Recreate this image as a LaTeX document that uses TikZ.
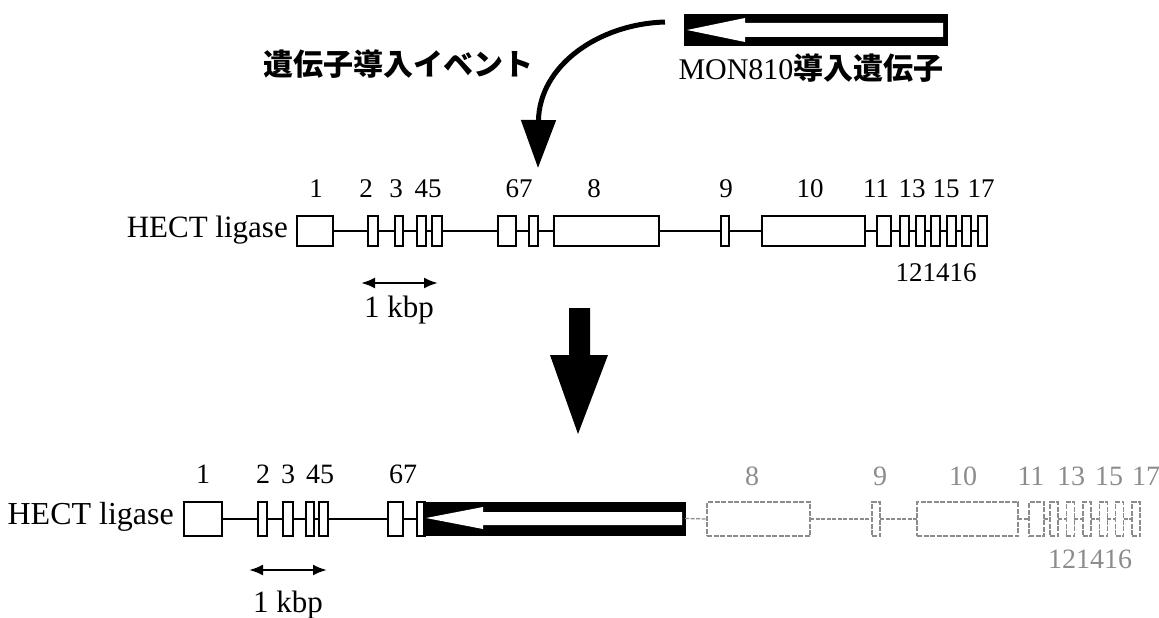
\documentclass[tikz,border=0pt]{standalone}
\usepackage{fontspec}
\setmainfont{Liberation Serif}
\newfontfamily\cjk{Noto Sans CJK JP}
\usetikzlibrary{arrows.meta}
\definecolor{fade}{gray}{0.55}
\tikzset{
  exon/.style={draw, line width=2pt, fill=white, inner sep=0pt, outer sep=0pt},
  fexon/.style={exon, draw=fade, line width=1.4pt, dash pattern=on 5pt off 1.5pt},
  intron/.style={line width=1.6pt},
  fintron/.style={line width=1.2pt, draw=fade, dash pattern=on 4pt off 1.5pt},
  num/.style={font=\fontsize{27}{27}\selectfont, inner sep=0pt, anchor=base},
  bnum/.style={num, font=\fontsize{28}{28}\selectfont},
  fnum/.style={bnum, text=fade},
  lab/.style={font=\fontsize{30}{30}\selectfont, inner sep=0pt, anchor=base},
  kbp/.style={font=\fontsize{31}{31}\selectfont, inner sep=0pt, anchor=base},
  scalebar/.style={line width=2.4pt, {Latex[length=14pt,width=11pt]}-{Latex[length=14pt,width=11pt]}},
  insbox/.style={fill=black, draw=black, inner sep=0pt, outer sep=0pt}
}
% \mkexon[style]{name}{x1}{x2}{yc}{h}
\newcommand\mkexon[6][exon]{\node[#1, minimum width={(#4-#3)*1pt}, minimum height=#6pt] (#2) at ({(#3+#4)/2},#5) {};}
\begin{document}
\begin{tikzpicture}[x=1pt,y=-1pt]
\useasboundingbox (0,0) rectangle (1159,618);

% ---------------- top: insert and event ----------------
\node[insbox, minimum width=263pt, minimum height=31pt] (ins1) at (815.5,29.5) {};
\fill[white] (687,30) -- (745,18) -- (745,23) -- (943,23) -- (943,37) -- (745,37) -- (745,42) -- cycle;
\node[lab] (monlab) at (811,80) {MON810{\cjk\bfseries 導入遺伝子}};
\node[lab, anchor=base east] (evt) at (534,75) {\cjk\bfseries 遺伝子導入イベント};
\coordinate (cs) at (665,22);
\coordinate (ct) at (538,168);
\draw[line width=5pt, -{Triangle[length=48pt,width=34pt]}] (cs) .. controls (598,24) and (539,66) .. (ct);

% ---------------- top gene ----------------
\def\yt{231}
\def\ht{30}
\node[lab, font=\fontsize{31}{31}\selectfont, anchor=base east] (hect1) at (288,237) {HECT ligase};
\mkexon{t1}{297}{333}{\yt}{\ht}
\mkexon{t2}{368}{378}{\yt}{\ht}
\mkexon{t3}{395}{403}{\yt}{\ht}
\mkexon{t4}{417}{426}{\yt}{\ht}
\mkexon{t5}{432}{442}{\yt}{\ht}
\mkexon{t6}{498}{516}{\yt}{\ht}
\mkexon{t7}{529}{538}{\yt}{\ht}
\mkexon{t8}{554}{659}{\yt}{\ht}
\mkexon{t9}{721}{729}{\yt}{\ht}
\mkexon{t10}{762}{865}{\yt}{\ht}
\mkexon{t11}{877}{891}{\yt}{\ht}
\foreach \i in {0,...,5}{
  \pgfmathsetmacro\xa{900+15.6*\i}
  \pgfmathsetmacro\xb{\xa+9}
  \pgfmathtruncatemacro\n{12+\i}
  \mkexon{t\n}{\xa}{\xb}{\yt}{\ht}
}
\foreach \a/\b in {t1/t2,t2/t3,t3/t4,t4/t5,t5/t6,t6/t7,t7/t8,t8/t9,t9/t10,t10/t11,t11/t12,t12/t13,t13/t14,t14/t15,t15/t16,t16/t17}
  \draw[intron] (\a.east) -- (\b.west);

\foreach \t/\x in {1/316,2/366,3/396,45/428,67/519,8/594,9/726,10/810,11/876,13/912,15/946,17/981}
  \node[num] (tl\t) at (\x,197) {\t};
\node[num] (tl121416) at (936,281) {121416};

\coordinate (sa1) at (361,283);
\coordinate (sa2) at (438,283);
\draw[scalebar] (sa1) -- (sa2);
\node[kbp] (kb1) at (399,317) {1 kbp};

% ---------------- big arrow ----------------
\fill (569,308) -- (590,308) -- (590,355) -- (608,355) -- (578,434) -- (550,355) -- (569,355) -- cycle;

% ---------------- bottom gene ----------------
\def\yb{519}
\def\hb{34}
\node[lab, font=\fontsize{32}{32}\selectfont, anchor=base east] (hect2) at (174,524) {HECT ligase};
\mkexon{b1}{184}{222}{\yb}{\hb}
\mkexon{b2}{258}{267}{\yb}{\hb}
\mkexon{b3}{283}{293}{\yb}{\hb}
\mkexon{b4}{306}{314}{\yb}{\hb}
\mkexon{b5}{319}{328}{\yb}{\hb}
\mkexon{b6}{388}{403}{\yb}{\hb}
\mkexon{b7}{417}{425}{\yb}{\hb}
\foreach \a/\b in {b1/b2,b2/b3,b3/b4,b4/b5,b5/b6,b6/b7}
  \draw[intron] (\a.east) -- (\b.west);
\node[insbox, minimum width=262pt, minimum height=33pt] (ins2) at (554,518.5) {};
\fill[white] (426,518) -- (483,507) -- (483,512) -- (682,512) -- (682,525) -- (483,525) -- (483,529) -- cycle;

\mkexon[fexon]{b8}{707}{810}{\yb}{\hb}
\mkexon[fexon]{b9}{872}{880}{\yb}{\hb}
\mkexon[fexon]{b10}{917}{1018}{\yb}{\hb}
\mkexon[fexon]{b11}{1029}{1044}{\yb}{\hb}
\foreach \i in {0,...,5}{
  \pgfmathsetmacro\xa{1050+16.4*\i}
  \pgfmathsetmacro\xb{\xa+8}
  \pgfmathtruncatemacro\n{12+\i}
  \mkexon[fexon]{b\n}{\xa}{\xb}{\yb}{\hb}
}
\draw[fintron] (ins2.east) -- (b8.west);
\foreach \a/\b in {b8/b9,b9/b10,b10/b11,b11/b12,b12/b13,b13/b14,b14/b15,b15/b16,b16/b17}
  \draw[fintron] (\a.east) -- (\b.west);

\foreach \t/\x in {1/203,2/263,3/288,45/320,67/403}
  \node[bnum] (bl\t) at (\x,483) {\t};
\foreach \t/\x in {8/752,9/880,10/963,11/1031,13/1071,15/1109,17/1146}
  \node[fnum] (bl\t) at (\x,485) {\t};
\node[fnum] (bl121416) at (1090,568) {121416};

\coordinate (sb1) at (249,570);
\coordinate (sb2) at (327,570);
\draw[scalebar] (sb1) -- (sb2);
\node[kbp] (kb2) at (288,612) {1 kbp};
\end{tikzpicture}
\end{document}
